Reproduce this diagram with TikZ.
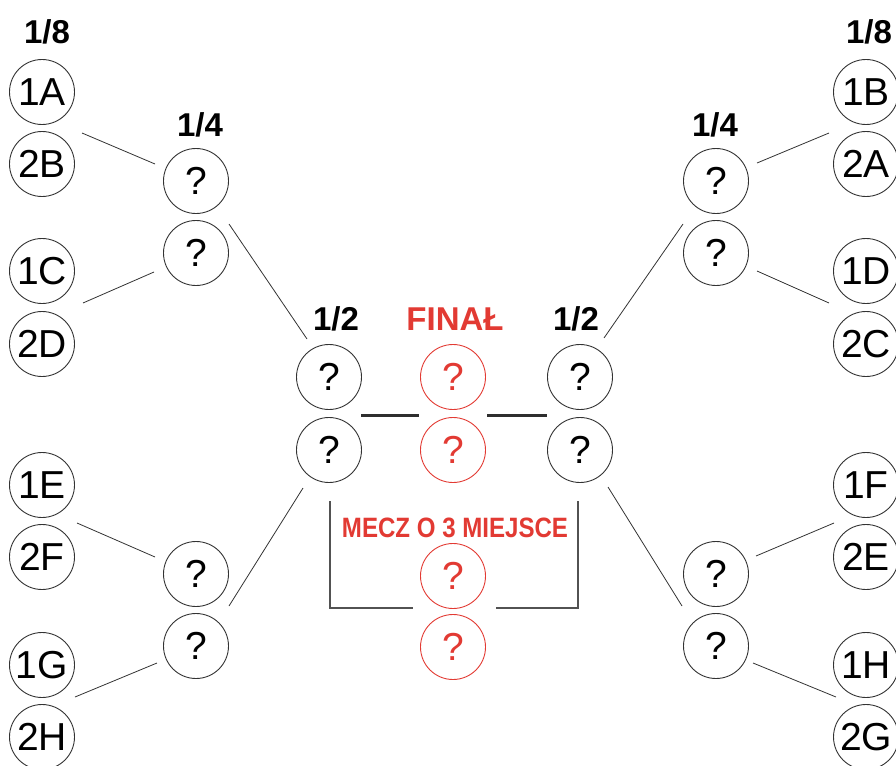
\documentclass[tikz,border=0pt]{standalone}
\usepackage{fontspec}
\setmainfont{Liberation Sans}
\usepackage{graphicx}
\definecolor{tred}{HTML}{E23A33}
\definecolor{ln}{HTML}{333333}
\begin{document}
\begin{tikzpicture}[x=1pt,y=-1pt,
  team/.style={circle,draw=ln,line width=0.9pt,minimum size=65pt,inner sep=0pt,font=\fontsize{39}{42}\selectfont},
  redteam/.style={team,draw=tred,text=tred},
  hdr/.style={font=\bfseries\fontsize{33}{36}\selectfont,inner sep=0pt},
  link/.style={draw=ln,line width=0.8pt},
  bar/.style={draw=ln!90!black,line width=3pt},
  brk/.style={draw=ln!85,line width=1.3pt}]
\useasboundingbox (0,0) rectangle (896,765);
% headers
\node[hdr] (h8l) at (47,32) {1/8};
\node[hdr] (h8r) at (869,32) {1/8};
\node[hdr] (h4l) at (200,125) {1/4};
\node[hdr] (h4r) at (715,125) {1/4};
\node[hdr] (h2l) at (336,319) {1/2};
\node[hdr] (h2r) at (576,319) {1/2};
\node[hdr,text=tred] (hf) at (455,319) {FINAŁ};
\node[font=\bfseries\fontsize{28}{30}\selectfont,inner sep=0pt,text=tred] (h3) at (455,528) {\scalebox{0.86}[1]{MECZ O 3 MIEJSCE}};
% 1/8 left
\node[team] (t1A) at (42,92) {1A};
\node[team] (t2B) at (42,164) {2B};
\node[team] (t1C) at (42,271) {1C};
\node[team] (t2D) at (42,344) {2D};
\node[team] (t1E) at (42,485) {1E};
\node[team] (t2F) at (42,557) {2F};
\node[team] (t1G) at (42,665) {1G};
\node[team] (t2H) at (42,737) {2H};
% 1/8 right
\node[team] (t1B) at (866,92) {1B};
\node[team] (t2A) at (866,164) {2A};
\node[team] (t1D) at (866,271) {1D};
\node[team] (t2C) at (866,344) {2C};
\node[team] (t1F) at (866,485) {1F};
\node[team] (t2E) at (866,557) {2E};
\node[team] (t1H) at (866,665) {1H};
\node[team] (t2G) at (866,737) {2G};
% 1/4
\node[team] (ql1) at (196,181) {?};
\node[team] (ql2) at (196,253) {?};
\node[team] (ql3) at (196,574) {?};
\node[team] (ql4) at (196,646) {?};
\node[team] (qr1) at (716,181) {?};
\node[team] (qr2) at (716,253) {?};
\node[team] (qr3) at (716,574) {?};
\node[team] (qr4) at (716,646) {?};
% 1/2
\node[team] (sl1) at (329,377) {?};
\node[team] (sl2) at (329,450) {?};
\node[team] (sr1) at (580,377) {?};
\node[team] (sr2) at (580,450) {?};
% final & 3rd
\node[redteam] (f1) at (453,377) {?};
\node[redteam] (f2) at (453,450) {?};
\node[redteam] (b1) at (453,576) {?};
\node[redteam] (b2) at (453,647) {?};
% connector end points
\coordinate (a1) at (82,133);  \coordinate (a2) at (155,164);
\coordinate (a3) at (83,303);  \coordinate (a4) at (154,272);
\coordinate (a5) at (77,523);  \coordinate (a6) at (155,557);
\coordinate (a7) at (75,697);  \coordinate (a8) at (157,663);
\coordinate (a9) at (229,224); \coordinate (a10) at (307,339);
\coordinate (a11) at (229,606); \coordinate (a12) at (303,488);
\coordinate (b3) at (829,133); \coordinate (b4) at (757,163);
\coordinate (b5) at (829,303); \coordinate (b6) at (757,271);
\coordinate (b7) at (834,523); \coordinate (b8) at (756,556);
\coordinate (b9) at (836,697); \coordinate (b10) at (753,663);
\coordinate (b11) at (683,224); \coordinate (b12) at (604,338);
\coordinate (b13) at (682,606); \coordinate (b14) at (608,487);
\coordinate (c1) at (361,415); \coordinate (c2) at (419,415);
\coordinate (c3) at (487,415); \coordinate (c4) at (547,415);
\coordinate (d1) at (330,501); \coordinate (d2) at (330,608); \coordinate (d3) at (413,608);
\coordinate (d4) at (578,501); \coordinate (d5) at (578,608); \coordinate (d6) at (496,608);
% connectors
\draw[link] (a1) -- (a2);
\draw[link] (a3) -- (a4);
\draw[link] (a5) -- (a6);
\draw[link] (a7) -- (a8);
\draw[link] (a9) -- (a10);
\draw[link] (a11) -- (a12);
\draw[link] (b3) -- (b4);
\draw[link] (b5) -- (b6);
\draw[link] (b7) -- (b8);
\draw[link] (b9) -- (b10);
\draw[link] (b11) -- (b12);
\draw[link] (b13) -- (b14);
\draw[bar] (c1) -- (c2);
\draw[bar] (c3) -- (c4);
\draw[brk] (d1) -- (d2) -- (d3);
\draw[brk] (d4) -- (d5) -- (d6);
\end{tikzpicture}
\end{document}
